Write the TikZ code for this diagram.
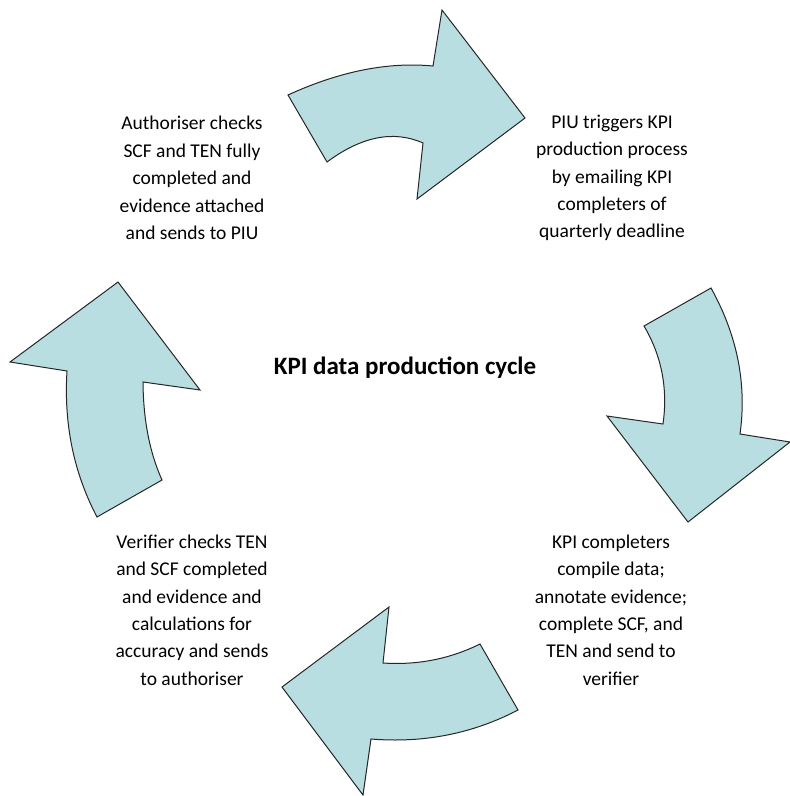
\documentclass[tikz,border=0pt]{standalone}
\usepackage{fontspec}
\setmainfont{Carlito}
\definecolor{arrowfill}{HTML}{B8DEE2}
\tikzset{
  cyclearrow/.style={fill=arrowfill, draw=black!85, line width=1pt, line join=miter},
  steptext/.style={align=center, inner sep=0pt, font=\fontsize{19.5}{27.4}\selectfont},
  titletext/.style={inner sep=0pt, font=\fontsize{25}{28}\selectfont\bfseries}
}
\begin{document}
\begin{tikzpicture}[x=1pt,y=-1pt]
\useasboundingbox (0,0) rectangle (790,796);
% top arrow (pointing right)
\draw[cyclearrow] (288,95) .. controls (339.7,71.3) and (388,61.7) .. (433,66)
  -- (442,10) -- (525,118) -- (417,199) -- (423,143)
  .. controls (393.7,130) and (361.7,136.3) .. (327,162) -- cycle;
% right arrow (pointing down)
\draw[cyclearrow] (711,288) .. controls (737.3,335.3) and (747,384) .. (740,434)
  -- (790,442) -- (688,522) -- (607,416) -- (663,424)
  .. controls (668,388.7) and (661.7,356) .. (644,326) -- cycle;
% bottom arrow (pointing left)
\draw[cyclearrow] (518,710) .. controls (472.7,733.7) and (423.7,743.3) .. (371,739)
  -- (363,795) -- (282,687) -- (389,607) -- (383,663)
  .. controls (417.3,665.3) and (449.7,659) .. (480,644) -- cycle;
% left arrow (pointing up)
\draw[cyclearrow] (97,517) .. controls (73.7,472.7) and (63.7,424) .. (67,371)
  -- (10,362) -- (118,282) -- (200,390) -- (143,382)
  .. controls (143.3,420) and (149.7,452.7) .. (162,480) -- cycle;
% texts
\node[titletext] (title) at (405,368) {KPI data production cycle};
\node[steptext] (auth) at (192,178) {Authoriser checks\\SCF and TEN fully\\completed and\\evidence attached\\and sends to PIU};
\node[steptext] (piu) at (612,178) {PIU triggers KPI\\production process\\by emailing KPI\\completers of\\quarterly deadline};
\node[steptext] (comp) at (611,610) {KPI completers\\compile data;\\annotate evidence;\\complete SCF, and\\TEN and send to\\verifier};
\node[steptext] (veri) at (192,610) {Verifier checks TEN\\and SCF completed\\and evidence and\\calculations for\\accuracy and sends\\to authoriser};
\end{tikzpicture}
\end{document}
